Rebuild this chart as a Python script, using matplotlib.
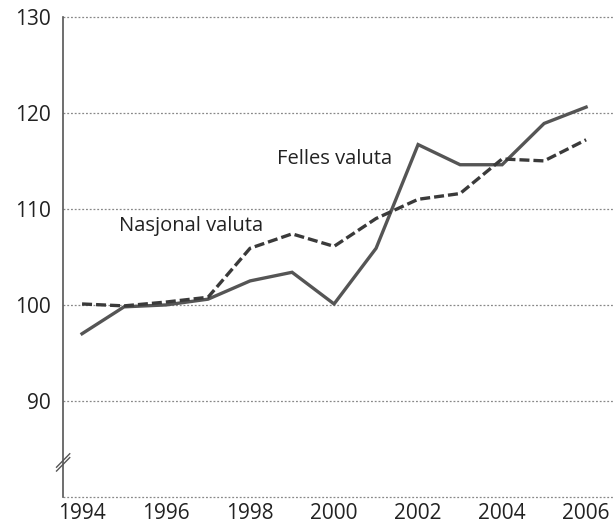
import numpy as np
import matplotlib.pyplot as plt
import matplotlib.transforms as mtransforms

plt.rcParams['font.family'] = ['Open Sans', 'DejaVu Sans']

years = np.arange(1994, 2007)
felles = [97.0, 99.8, 100.0, 100.6, 102.5, 103.4, 100.1, 105.9, 116.7, 114.6, 114.6, 118.9, 120.6]
nasjonal = [100.1, 99.9, 100.3, 100.8, 105.9, 107.4, 106.1, 109.0, 111.0, 111.6, 115.2, 115.0, 117.2]
yticks = [90, 100, 110, 120, 130]
xticks = [1994, 1996, 1998, 2000, 2002, 2004, 2006]

fig = plt.figure(figsize=(6.13, 5.27), dpi=100)
ax = fig.add_axes([0.103, 0.057, 0.897, 0.911])

ax.plot(years, felles, color='#555555', lw=2.4, solid_joinstyle='miter')
ax.plot(years, nasjonal, color='#3a3a3a', lw=2.4, ls=(0, (3.0, 1.2)))

ax.text(2000.0, 115.2, 'Felles valuta', fontsize=14.5, ha='center', va='center', color='#222222')
ax.text(1996.6, 108.2, 'Nasjonal valuta', fontsize=14.5, ha='center', va='center', color='#222222')

ax.set_xlim(1993.55, 2006.64)
ax.set_ylim(80, 130)
ax.set_yticks(yticks)
ax.set_xticks(xticks)
ax.tick_params(length=0, labelsize=15, colors='#222222')
ax.tick_params(axis='y', pad=9)
ax.tick_params(axis='x', pad=4)

for y in yticks + [80]:
    ax.axhline(y, color='#888888', lw=0.9, ls=(0, (1.5, 1.5)), zorder=0, clip_on=False)

for s in ['top', 'right', 'bottom']:
    ax.spines[s].set_visible(False)
ax.spines['left'].set_color('#555555')
ax.spines['left'].set_linewidth(1.2)

# break marks on y axis
trans = mtransforms.blended_transform_factory(ax.transAxes, ax.transData)
for off in [0.0, -0.4]:
    ax.plot([-0.012, 0.012], [83.1 + off, 84.5 + off], color='#555555', lw=1.0,
            transform=trans, clip_on=False)

fig.savefig('out.png', dpi=100)
